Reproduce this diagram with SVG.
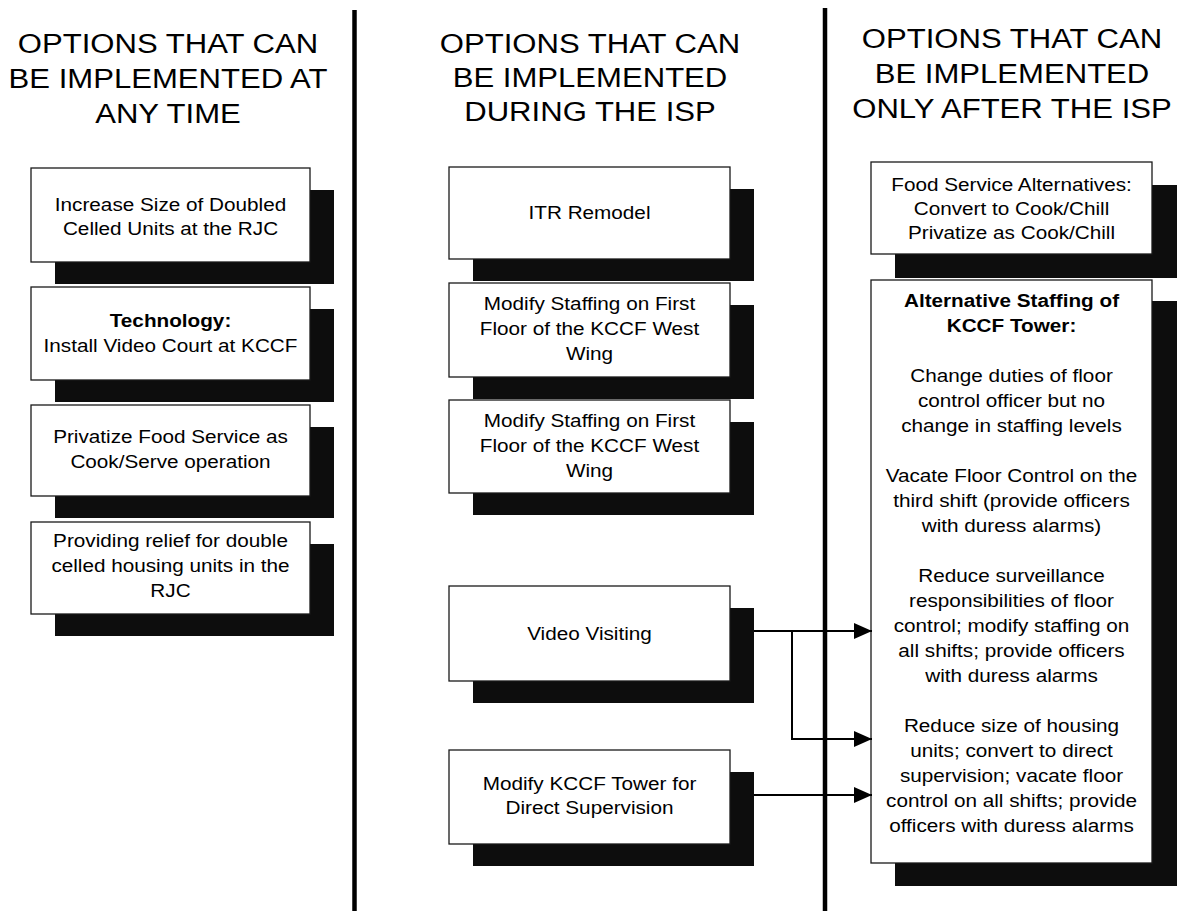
<svg xmlns="http://www.w3.org/2000/svg" width="1181" height="911" viewBox="0 0 1181 911">
<style>
.hdr{font-family:"Liberation Sans",Arial,sans-serif;font-size:28px;fill:#000;text-anchor:middle}
.t{font-family:"Liberation Sans",Arial,sans-serif;font-size:18.5px;fill:#000;text-anchor:middle}
.b{font-weight:bold}
.box{fill:#fff;stroke:#1a1a1a;stroke-width:1.3}
.sh{fill:#0d0d0d}
.div{stroke:#000;stroke-width:4.5;fill:none}
.con{stroke:#000;stroke-width:2;fill:none}
</style>
<defs>
<marker id="ah" markerUnits="userSpaceOnUse" markerWidth="18" markerHeight="16" refX="18" refY="8" orient="auto">
<path d="M0,0 L18,8 L0,16 z" fill="#000"/>
</marker>
</defs>
<rect width="1181" height="911" fill="#fff"/>

<g id="dividers">
<line class="div" x1="354.5" y1="10" x2="354.5" y2="911"/>
<line class="div" x1="825" y1="8" x2="825" y2="911"/>
</g>

<g id="headers">
<g transform="translate(168 0) scale(1.11 1)">
<text class="hdr" x="0" y="53">OPTIONS THAT CAN</text>
<text class="hdr" x="0" y="88">BE IMPLEMENTED AT</text>
<text class="hdr" x="0" y="123">ANY TIME</text>
</g>
<g transform="translate(590 0) scale(1.11 1)">
<text class="hdr" x="0" y="53">OPTIONS THAT CAN</text>
<text class="hdr" x="0" y="87">BE IMPLEMENTED</text>
<text class="hdr" x="0" y="121">DURING THE ISP</text>
</g>
<g transform="translate(1012 0) scale(1.11 1)">
<text class="hdr" x="0" y="48">OPTIONS THAT CAN</text>
<text class="hdr" x="0" y="83">BE IMPLEMENTED</text>
<text class="hdr" x="0" y="118">ONLY AFTER THE ISP</text>
</g>
</g>

<g id="n-increase">
<rect class="sh" x="55" y="190" width="279" height="94"/>
<rect class="box" x="31" y="168" width="279" height="94"/>
<g transform="translate(170.5 0) scale(1.12 1)">
<text class="t" x="0" y="211">Increase Size of Doubled</text>
<text class="t" x="0" y="235">Celled Units at the RJC</text>
</g>
</g>

<g id="n-technology">
<rect class="sh" x="55" y="309" width="279" height="93"/>
<rect class="box" x="31" y="287" width="279" height="93"/>
<g transform="translate(170.5 0) scale(1.12 1)">
<text class="t b" x="0" y="327">Technology:</text>
<text class="t" x="0" y="352">Install Video Court at KCCF</text>
</g>
</g>

<g id="n-privatize">
<rect class="sh" x="55" y="427" width="279" height="91"/>
<rect class="box" x="31" y="405" width="279" height="91"/>
<g transform="translate(170.5 0) scale(1.12 1)">
<text class="t" x="0" y="443">Privatize Food Service as</text>
<text class="t" x="0" y="468">Cook/Serve operation</text>
</g>
</g>

<g id="n-relief">
<rect class="sh" x="55" y="544" width="279" height="92"/>
<rect class="box" x="31" y="522" width="279" height="92"/>
<g transform="translate(170.5 0) scale(1.12 1)">
<text class="t" x="0" y="547">Providing relief for double</text>
<text class="t" x="0" y="572">celled housing units in the</text>
<text class="t" x="0" y="597">RJC</text>
</g>
</g>

<g id="n-itr">
<rect class="sh" x="473" y="189" width="281" height="92"/>
<rect class="box" x="449" y="167" width="281" height="92"/>
<g transform="translate(589.5 0) scale(1.12 1)">
<text class="t" x="0" y="219">ITR Remodel</text>
</g>
</g>

<g id="n-staffing1">
<rect class="sh" x="473" y="305" width="281" height="94"/>
<rect class="box" x="449" y="283" width="281" height="94"/>
<g transform="translate(589.5 0) scale(1.12 1)">
<text class="t" x="0" y="310">Modify Staffing on First</text>
<text class="t" x="0" y="335">Floor of the KCCF West</text>
<text class="t" x="0" y="360">Wing</text>
</g>
</g>

<g id="n-staffing2">
<rect class="sh" x="473" y="422" width="281" height="93"/>
<rect class="box" x="449" y="400" width="281" height="93"/>
<g transform="translate(589.5 0) scale(1.12 1)">
<text class="t" x="0" y="427">Modify Staffing on First</text>
<text class="t" x="0" y="452">Floor of the KCCF West</text>
<text class="t" x="0" y="477">Wing</text>
</g>
</g>

<g id="n-video">
<rect class="sh" x="473" y="608" width="281" height="95"/>
<rect class="box" x="449" y="586" width="281" height="95"/>
<g transform="translate(589.5 0) scale(1.12 1)">
<text class="t" x="0" y="640">Video Visiting</text>
</g>
</g>

<g id="n-tower">
<rect class="sh" x="473" y="772" width="281" height="94"/>
<rect class="box" x="449" y="750" width="281" height="94"/>
<g transform="translate(589.5 0) scale(1.12 1)">
<text class="t" x="0" y="790">Modify KCCF Tower for</text>
<text class="t" x="0" y="814">Direct Supervision</text>
</g>
</g>

<g id="n-food">
<rect class="sh" x="895" y="185" width="282" height="93"/>
<rect class="box" x="871" y="162" width="281" height="92"/>
<g transform="translate(1011.5 0) scale(1.12 1)">
<text class="t" x="0" y="191">Food Service Alternatives:</text>
<text class="t" x="0" y="215">Convert to Cook/Chill</text>
<text class="t" x="0" y="239">Privatize as Cook/Chill</text>
</g>
</g>

<g id="n-altstaff">
<rect class="sh" x="895" y="301" width="282" height="585"/>
<rect class="box" x="871" y="280" width="281" height="583"/>
<g transform="translate(1011.5 0) scale(1.12 1)">
<text class="t b" x="0" y="307">Alternative Staffing of</text>
<text class="t b" x="0" y="332">KCCF Tower:</text>
<text class="t" x="0" y="382">Change duties of floor</text>
<text class="t" x="0" y="407">control officer but no</text>
<text class="t" x="0" y="432">change in staffing levels</text>
<text class="t" x="0" y="482">Vacate Floor Control on the</text>
<text class="t" x="0" y="507">third shift (provide officers</text>
<text class="t" x="0" y="532">with duress alarms)</text>
<text class="t" x="0" y="582">Reduce surveillance</text>
<text class="t" x="0" y="607">responsibilities of floor</text>
<text class="t" x="0" y="632">control; modify staffing on</text>
<text class="t" x="0" y="657">all shifts; provide officers</text>
<text class="t" x="0" y="682">with duress alarms</text>
<text class="t" x="0" y="732">Reduce size of housing</text>
<text class="t" x="0" y="757">units; convert to direct</text>
<text class="t" x="0" y="782">supervision; vacate floor</text>
<text class="t" x="0" y="807">control on all shifts; provide</text>
<text class="t" x="0" y="832">officers with duress alarms</text>
</g>
</g>

<g id="connectors">
<path class="con" d="M754,631 H872" marker-end="url(#ah)"/>
<path class="con" d="M792,631 V739 H872" marker-end="url(#ah)"/>
<path class="con" d="M754,795 H872" marker-end="url(#ah)"/>
</g>
</svg>
